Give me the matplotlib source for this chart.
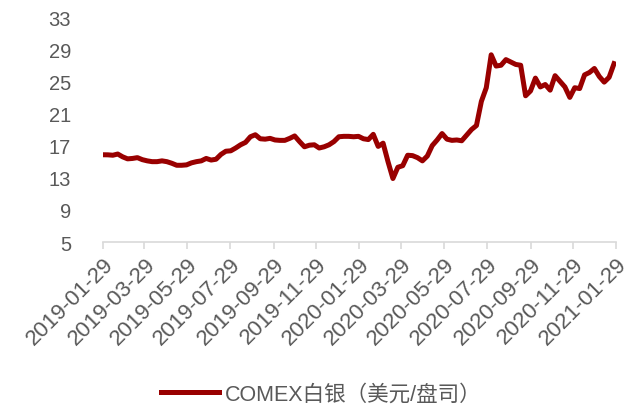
import pandas as pd
import matplotlib
matplotlib.use('Agg')
import matplotlib.pyplot as plt

# weekly COMEX silver price (USD/oz)
start_date = '2019-01-29'
silver = [15.86, 15.85, 15.8, 15.95, 15.6, 15.35, 15.4, 15.5, 15.25, 15.1,
          15.0, 15.0, 15.1, 15.0, 14.8, 14.55, 14.55, 14.6, 14.85, 15.0,
          15.1, 15.4, 15.2, 15.3, 15.9, 16.3, 16.35, 16.7, 17.1, 17.4,
          18.1, 18.35, 17.85, 17.8, 17.9, 17.7, 17.65, 17.65, 17.9, 18.2,
          17.5, 16.85, 17.05, 17.1, 16.7, 16.85, 17.1, 17.5, 18.1, 18.15,
          18.15, 18.1, 18.15, 17.85, 17.75, 18.4, 16.9, 17.3, 15.0, 12.9,
          14.3, 14.5, 15.8, 15.75, 15.5, 15.1, 15.7, 17.0, 17.7, 18.5,
          17.8, 17.65, 17.7, 17.6, 18.3, 19.0, 19.5, 22.5, 24.2, 28.3,
          26.9, 27.0, 27.7, 27.4, 27.1, 27.0, 23.2, 23.8, 25.4, 24.3,
          24.6, 23.9, 25.7, 25.0, 24.3, 23.0, 24.2, 24.1, 25.8, 26.1,
          26.6, 25.6, 24.9, 25.5, 27.2]
tick_labels = ['2019-01-29', '2019-03-29', '2019-05-29', '2019-07-29',
               '2019-09-29', '2019-11-29', '2020-01-29', '2020-03-29',
               '2020-05-29', '2020-07-29', '2020-09-29', '2020-11-29',
               '2021-01-29']
y_ticks = [5, 9, 13, 17, 21, 25, 29, 33]
series_name = 'COMEX白银（美元/盘司）'

dates = pd.date_range(start_date, periods=len(silver), freq='7D')
tick_dates = pd.to_datetime(tick_labels)

grey = '#595959'
fig = plt.figure(figsize=(6.3, 4.1), dpi=100)
ax = fig.add_axes([0.1635, 0.4073, 0.8145, 0.5487])

ax.plot(dates, silver, color='#990000', lw=3.6, solid_joinstyle='round',
        label=series_name)

ax.set_ylim(5, 33)
ax.set_yticks(y_ticks)
ax.set_xlim(tick_dates[0], tick_dates[-1])
ax.set_xticks(tick_dates)
ax.set_xticklabels(tick_labels, rotation=45, ha='right', va='top',
                   rotation_mode='anchor')

for s in ['left', 'right', 'top']:
    ax.spines[s].set_visible(False)
ax.spines['bottom'].set_color('#d9d9d9')
ax.spines['bottom'].set_linewidth(1.2)
ax.tick_params(axis='y', length=0, pad=23, labelcolor=grey, labelsize=14.5)
ax.tick_params(axis='x', length=5, width=1.2, color='#d9d9d9', pad=3,
               labelcolor=grey, labelsize=16)
for t in ax.get_yticklabels():
    t.set_family(['Liberation Sans', 'DejaVu Sans'])
for t in ax.get_xticklabels():
    t.set_family(['Liberation Sans', 'DejaVu Sans'])

leg = fig.legend(loc='center', bbox_to_anchor=(0.51, 0.037), frameon=False,
                 handlelength=2.7, handletextpad=0.25,
                 prop={'family': ['Liberation Sans', 'Noto Sans CJK SC'], 'size': 15.5})
for t in leg.get_texts():
    t.set_color(grey)

fig.savefig('out.png', dpi=100)
